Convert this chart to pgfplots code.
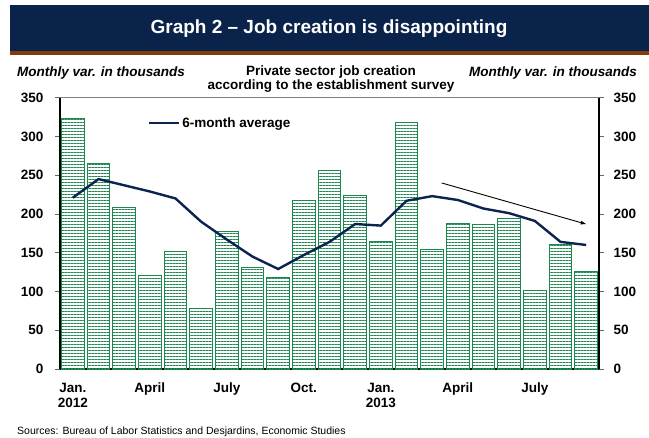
\documentclass[border=0pt]{standalone}
\usepackage{pgfplots}
\pgfplotsset{compat=1.18}
\usepackage{fontspec}
\setmainfont{Liberation Sans}
\usetikzlibrary{patterns.meta,arrows.meta}
\definecolor{navy}{RGB}{10,35,75}
\definecolor{brownbar}{RGB}{130,60,10}
\definecolor{bargreen}{RGB}{30,135,80}
\definecolor{linenavy}{RGB}{12,35,80}
\begin{document}
\begin{tikzpicture}[x=1bp,y=1bp]
\path[use as bounding box] (0,0) rectangle (649,438);
% banner
\fill[navy] (10,387) rectangle (649,433);
\fill[brownbar] (10,383) rectangle (649,387);
\node[text=white,font=\fontsize{19bp}{22bp}\selectfont\bfseries] at (329,409) {Graph 2 – Job creation is disappointing};
\node[anchor=west,font=\fontsize{13.5bp}{15bp}\selectfont\bfseries\itshape,inner sep=0pt] at (17,365) {Monthly var. in thousands};
\node[anchor=east,font=\fontsize{13.5bp}{15bp}\selectfont\bfseries\itshape,inner sep=0pt] at (637,365) {Monthly var. in thousands};
\node[align=center,font=\fontsize{13.5bp}{14bp}\selectfont\bfseries,inner sep=0pt] at (331,359) {Private sector job creation\\according to the establishment survey};
\node[anchor=west,font=\fontsize{10.5bp}{12bp}\selectfont,inner sep=0pt] at (17,6) {Sources: Bureau of Labor Statistics and Desjardins, Economic Studies};
\begin{axis}[
  at={(60bp,69bp)}, anchor=south west,
  scale only axis, width=539bp, height=271.3bp,
  xmin=-0.5, xmax=20.5, ymin=0, ymax=350,
  axis x line*=bottom, axis y line*=left,
  axis line style={line width=1.2bp, black},
  xtick={0,3,6,9,12,15,18},
  xticklabels={{\strut Jan.\\2012},{\strut April},{\strut July},{\strut Oct.},{\strut Jan.\\2013},{\strut April},{\strut July}},
  xticklabel style={align=center, anchor=north, font=\fontsize{13.5bp}{15bp}\selectfont\bfseries, yshift=-4bp},
  x tick style={draw=none},
  ytick={0,50,...,350},
  yticklabel style={font=\fontsize{13.5bp}{15bp}\selectfont\bfseries, xshift=-8bp},
  tick align=outside, major tick length=5bp,
  y tick style={gray!80!black, line width=0.8bp},
  /pgf/number format/assume math mode=true,
  legend style={at={(rel axis cs:0.163,0.907)}, anchor=west, draw=none, fill=none,
    font=\fontsize{13.5bp}{15bp}\selectfont\bfseries, inner sep=0pt},
  legend image code/.code={\draw[#1] (0bp,0bp) -- (30bp,0bp);},
  clip=false,
]
\draw[gray, line width=0.8bp] (rel axis cs:0,1) -- (rel axis cs:1,1);
\addplot[ybar, bar width=0.88, draw=bargreen, line width=0.8bp,
  pattern={Lines[angle=0, distance=3bp, line width=1bp]}, pattern color=bargreen,
  forget plot] coordinates {
(0,323) (1,265) (2,208) (3,121) (4,152) (5,78) (6,178) (7,131) (8,118) (9,218)
(10,256) (11,224) (12,165) (13,318) (14,154) (15,188) (16,187) (17,194) (18,101) (19,161) (20,126)
};
\addplot[linenavy, line width=2.4bp] coordinates {
(0,221) (1,245) (2,237) (3,229) (4,220) (5,190) (6,167) (7,145) (8,129) (9,147)
(10,164) (11,187) (12,185) (13,217) (14,223) (15,218) (16,207) (17,201) (18,191) (19,164) (20,160)
};
\addlegendentry{6-month average}
\draw[-{Latex[length=6bp,width=4bp]}, line width=0.9bp] (axis cs:14.37,240) -- (axis cs:20.02,186.7);
\end{axis}
\begin{axis}[
  at={(60bp,69bp)}, anchor=south west,
  scale only axis, width=539bp, height=271.3bp,
  xmin=-0.5, xmax=20.5, ymin=0, ymax=350,
  axis y line*=right, hide x axis,
  axis line style={line width=1.2bp, black},
  ytick={0,50,...,350},
  yticklabel style={font=\fontsize{13.5bp}{15bp}\selectfont\bfseries, xshift=6bp},
  tick align=outside, major tick length=5bp,
  y tick style={gray!80!black, line width=0.8bp},
  /pgf/number format/assume math mode=true,
]
\end{axis}
\end{tikzpicture}
\end{document}
